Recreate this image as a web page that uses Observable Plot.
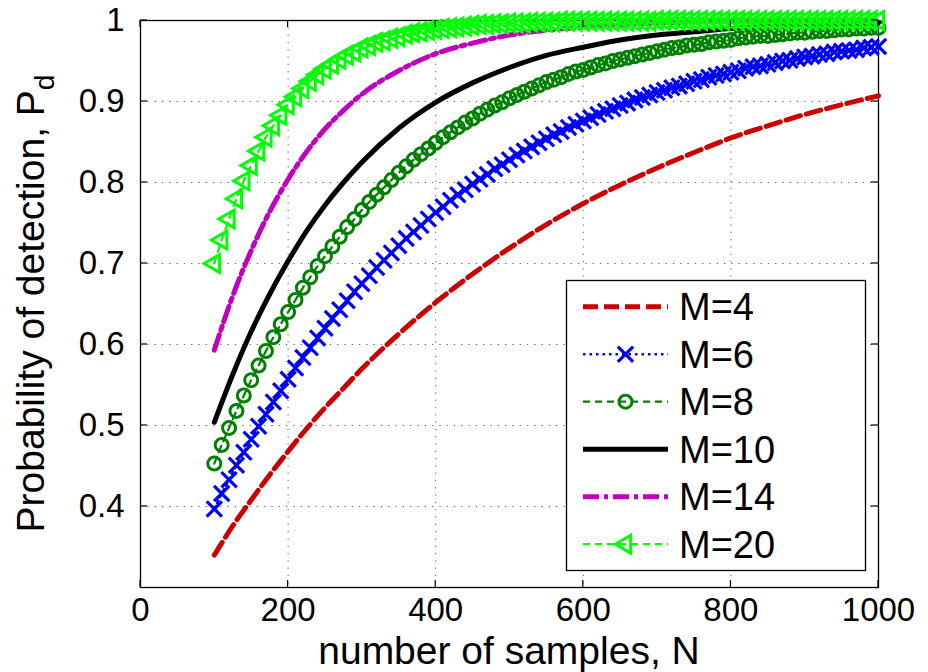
<!DOCTYPE html>
<html><head><meta charset="utf-8">
<script src="https://cdn.jsdelivr.net/npm/d3@7"></script>
<script src="https://cdn.jsdelivr.net/npm/@observablehq/plot@0.6"></script>
<style>body{margin:0;background:#fff}</style>
</head><body><div id="chart"></div>
<script>
// ---- data ----
const nFine = d3.range(100, 1001, 10);
const nCoarse = [100,125,150,175,200,225,250,275,300,350,400,450,500,550,600,650,700,750,800,850,900,950,1000];
const pdM4 = [.340,.376,.408,.439,.468,.496,.522,.546,.570,.613,.652,.687,.719,.748,.774,.797,.818,.837,.855,.870,.884,.896,.907];
const pdM6 = [
 .397,.416,.433,.451,.467,.483,.499,.514,.529,.543,
 .557,.571,.584,.596,.608,.620,.632,.643,.654,.665,
 .675,.685,.695,.704,.713,.722,.731,.739,.747,.755,
 .763,.770,.778,.785,.791,.798,.804,.810,.817,.822,
 .828,.834,.839,.844,.849,.854,.859,.863,.868,.872,
 .876,.880,.884,.888,.891,.895,.898,.902,.905,.908,
 .911,.914,.917,.919,.922,.925,.927,.930,.932,.934,
 .936,.938,.941,.943,.944,.946,.948,.950,.951,.953,
 .955,.956,.958,.959,.961,.962,.963,.964,.966,.967,.968];
const pdM8 = [
 .453,.476,.497,.518,.537,.556,.574,.592,.609,.625,
 .640,.655,.670,.683,.697,.709,.721,.733,.745,.755,
 .766,.776,.785,.794,.803,.812,.820,.828,.835,.842,
 .849,.856,.862,.868,.874,.879,.885,.890,.895,.899,
 .904,.908,.912,.916,.920,.924,.927,.930,.934,.937,
 .939,.942,.945,.947,.950,.952,.954,.956,.958,.960,
 .962,.964,.966,.967,.969,.970,.971,.973,.974,.975,
 .976,.978,.979,.980,.981,.981,.982,.983,.984,.985,
 .985,.986,.987,.987,.988,.989,.989,.990,.990,.991,.991];
const pdM10 = [.504,.563,.616,.662,.703,.740,.772,.800,.825,.867,.899,.923,.942,.957,.967,.976,.982,.986,.990,.993,.994,.996,.997];
const pdM14 = [.593,.660,.716,.764,.804,.838,.866,.889,.909,.938,.959,.972,.982,.988,.992,.995,.997,.998,.999,.999,.999,1.000,1.000];
const pdM20 = [
 .700,.729,.755,.780,.802,.821,.839,.856,.870,.883,
 .896,.906,.916,.925,.933,.940,.946,.952,.957,.961,
 .966,.969,.973,.975,.978,.980,.983,.985,.986,.988,
 .989,.990,.991,.992,.993,.994,.995,.995,.996,.996,
 .997,.997,.997,.998,.998,.998,.998,.999,.999,.999,
 .999,.999,.999,.999,.999,.999,.999,.999,.999,.999,
 1,1,1,1,1,1,1,1,1,1,
 1,1,1,1,1,1,1,1,1,1,
 1,1,1,1,1,1,1,1,1,1,1];
const seriesLabels = ["M=4","M=6","M=8","M=10","M=14","M=20"];
const xTicks = [0,200,400,600,800,1000];
const yTicks = [0.4,0.5,0.6,0.7,0.8,0.9,1];
const xGrid = [200,400,600,800];
const yGrid = [0.4,0.5,0.6,0.7,0.8,0.9];
const xLabel = "number of samples, N";
const yLabelMain = "Probability of detection, P";
const yLabelSub = "d";

// ---- styles ----
const colors = ["#cc0000","#0000ff","#008000","#000000","#bf00bf","#00ff00"];
const widths = [5,2.5,2.2,5,5,2.2];
const dashes = ["15,6","2.5,4","7,5",null,"16,5,4,5","7,5"];
const triangleLeft = {
  draw(ctx, size) {
    const y = -Math.sqrt(size / (Math.sqrt(3) * 3));
    ctx.moveTo(y * 2, 0);
    ctx.lineTo(-y, -Math.sqrt(3) * y);
    ctx.lineTo(-y, Math.sqrt(3) * y);
    ctx.closePath();
  }
};
const symbols = [null, d3.symbolTimes, d3.symbolCircle, null, null, triangleLeft];
const symbolR = [0, 7, 6.5, 0, 0, 6.6];
const symbolW = [0, 3.2, 3, 0, 0, 3];

const toRows = (ns, vals) => ns.map((n, i) => ({n, pd: vals[i]}));
const series = [
  toRows(nCoarse, pdM4), toRows(nFine, pdM6), toRows(nFine, pdM8),
  toRows(nCoarse, pdM10), toRows(nCoarse, pdM14), toRows(nFine, pdM20)
];

const marks = [
  Plot.ruleX(xGrid, {stroke: "#666", strokeWidth: 1, strokeDasharray: "1.3,6"}),
  Plot.ruleY(yGrid, {stroke: "#666", strokeWidth: 1, strokeDasharray: "1.3,6"}),
  Plot.frame({stroke: "#000", strokeWidth: 1.3})
];
series.forEach((data, i) => {
  marks.push(Plot.line(data, {x: "n", y: "pd", stroke: colors[i], strokeWidth: widths[i],
    strokeDasharray: dashes[i], curve: "monotone-x"}));
  if (symbols[i]) {
    marks.push(Plot.dot(data, {x: "n", y: "pd", symbol: symbols[i], r: symbolR[i],
      stroke: colors[i], fill: "none", strokeWidth: symbolW[i]}));
  }
});

const chart = Plot.plot({
  width: 928, height: 672,
  marginLeft: 140, marginRight: 50, marginTop: 20, marginBottom: 85,
  style: {fontFamily: "'Liberation Sans', Arial, Helvetica, sans-serif", fontSize: "33px",
          background: "#fff", color: "#000", overflow: "visible"},
  x: {domain: [0, 1000], ticks: xTicks, tickSize: 0, tickPadding: 10, label: null, tickFormat: d => String(d)},
  y: {domain: [0.3, 1], ticks: yTicks, tickSize: 0, tickPadding: 16, label: null, tickFormat: d => String(d)},
  marks
});
document.getElementById("chart").appendChild(chart);

// ---- inward ticks, axis labels, legend ----
const svg = d3.select(chart);
const sx = chart.scale("x"), sy = chart.scale("y");
const x0 = sx.apply(0), x1 = sx.apply(1000), y0 = sy.apply(0.3), y1 = sy.apply(1);
const tk = svg.append("g").attr("stroke", "#000").attr("stroke-width", 1.2);
xTicks.forEach(t => {
  const x = sx.apply(t);
  tk.append("line").attr("x1", x).attr("x2", x).attr("y1", y0).attr("y2", y0 - 7);
  tk.append("line").attr("x1", x).attr("x2", x).attr("y1", y1).attr("y2", y1 + 7);
});
yTicks.forEach(t => {
  const y = sy.apply(t);
  tk.append("line").attr("x1", x0).attr("x2", x0 + 7).attr("y1", y).attr("y2", y);
  tk.append("line").attr("x1", x1).attr("x2", x1 - 7).attr("y1", y).attr("y2", y);
});

const font = "'Liberation Sans', Arial, Helvetica, sans-serif";
svg.append("text").attr("x", (x0 + x1) / 2).attr("y", 664).attr("text-anchor", "middle")
  .attr("font-family", font).attr("font-size", 39).attr("fill", "#000").text(xLabel);
const yl = svg.append("text").attr("transform", `translate(44,${(y0 + y1) / 2}) rotate(-90)`)
  .attr("text-anchor", "middle").attr("font-family", font).attr("font-size", 39).attr("fill", "#000");
yl.append("tspan").text(yLabelMain);
yl.append("tspan").attr("dy", 10).attr("font-size", 28).text(yLabelSub);

const lg = svg.append("g");
lg.append("rect").attr("x", 566.5).attr("y", 280.5).attr("width", 299).attr("height", 290)
  .attr("fill", "#fff").attr("stroke", "#000").attr("stroke-width", 1.3);
seriesLabels.forEach((lab, i) => {
  const cy = 306.7 + i * 47.5;
  lg.append("line").attr("x1", 583).attr("x2", 668).attr("y1", cy).attr("y2", cy)
    .attr("stroke", colors[i]).attr("stroke-width", widths[i])
    .attr("stroke-dasharray", dashes[i]);
  if (symbols[i]) {
    lg.append("path").attr("transform", `translate(625.5,${cy})`)
      .attr("d", d3.symbol().type(symbols[i]).size(Math.PI * symbolR[i] * symbolR[i])())
      .attr("fill", "none").attr("stroke", colors[i]).attr("stroke-width", symbolW[i]);
  }
  lg.append("text").attr("x", 679).attr("y", cy).attr("dy", "0.36em").attr("text-anchor", "start")
    .attr("font-family", font).attr("font-size", 38).attr("fill", "#000").text(lab);
});
</script>
</body></html>
